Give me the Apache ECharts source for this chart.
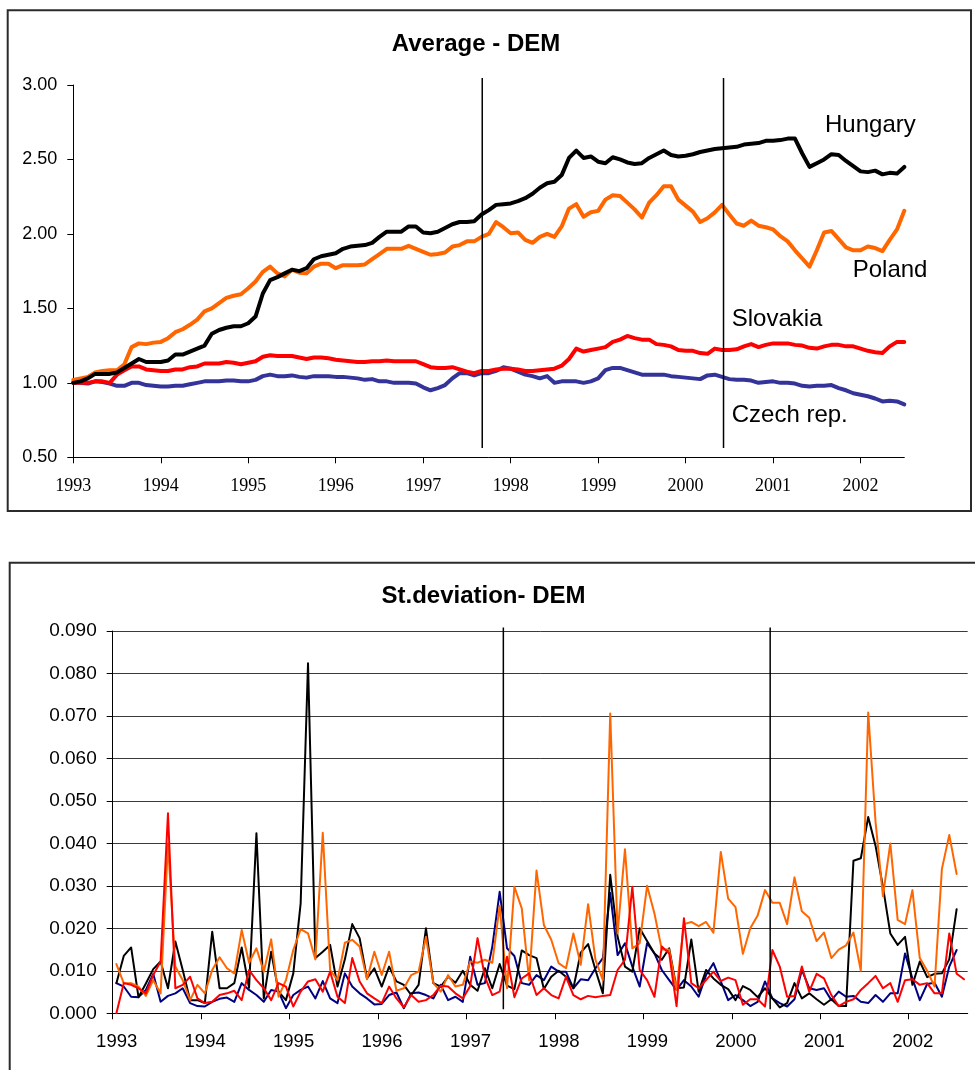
<!DOCTYPE html>
<html>
<head>
<meta charset="utf-8">
<script src="https://cdn.jsdelivr.net/npm/echarts@6/dist/echarts.min.js"></script>
<style>
  html, body { margin: 0; padding: 0; background: #ffffff; }
  #chart { width: 975px; height: 1070px; }
</style>
</head>
<body>
<div id="chart"></div>
<script>
// ---------- tick labels ----------
const yearLabels = ['1993','1994','1995','1996','1997','1998','1999','2000','2001','2002'];

// ---------- Average - DEM (monthly, Jan 1993 .. Jul 2002) ----------
const hungaryAvg = [1.00,1.01,1.03,1.06,1.06,1.06,1.07,1.10,1.13,1.16,1.14,1.14,1.14,1.15,1.19,1.19,1.21,1.23,1.25,1.33,1.355,1.37,1.38,1.38,1.40,1.445,1.60,1.69,1.71,1.735,1.76,1.75,1.77,1.83,1.85,1.86,1.87,1.90,1.915,1.92,1.925,1.94,1.98,2.015,2.015,2.015,2.05,2.05,2.01,2.005,2.015,2.04,2.065,2.08,2.08,2.085,2.13,2.16,2.195,2.20,2.205,2.22,2.24,2.27,2.31,2.34,2.35,2.395,2.51,2.56,2.51,2.52,2.485,2.475,2.515,2.50,2.48,2.47,2.475,2.51,2.535,2.56,2.53,2.52,2.525,2.535,2.55,2.56,2.57,2.575,2.58,2.585,2.60,2.605,2.61,2.625,2.625,2.63,2.64,2.64,2.54,2.45,2.475,2.50,2.535,2.53,2.49,2.455,2.42,2.415,2.425,2.40,2.41,2.405,2.45];
const polandAvg = [1.02,1.03,1.04,1.07,1.08,1.085,1.085,1.125,1.24,1.265,1.26,1.27,1.275,1.30,1.34,1.36,1.39,1.425,1.48,1.50,1.535,1.57,1.585,1.595,1.635,1.68,1.745,1.78,1.735,1.715,1.76,1.74,1.735,1.78,1.80,1.80,1.77,1.79,1.79,1.79,1.795,1.83,1.865,1.90,1.90,1.90,1.92,1.90,1.88,1.86,1.865,1.875,1.915,1.925,1.95,1.95,1.98,2.00,2.08,2.045,2.005,2.01,1.96,1.94,1.98,2.00,1.98,2.05,2.17,2.20,2.115,2.145,2.155,2.23,2.26,2.255,2.21,2.165,2.11,2.21,2.26,2.32,2.32,2.23,2.19,2.15,2.08,2.105,2.145,2.195,2.13,2.07,2.055,2.09,2.055,2.045,2.03,1.985,1.95,1.89,1.835,1.78,1.89,2.01,2.02,1.965,1.91,1.89,1.89,1.915,1.905,1.885,1.96,2.03,2.155];
const slovakiaAvg = [1.00,1.00,1.00,1.01,1.01,1.00,1.055,1.085,1.11,1.11,1.09,1.085,1.08,1.08,1.09,1.09,1.105,1.11,1.13,1.13,1.13,1.14,1.135,1.125,1.135,1.145,1.175,1.185,1.18,1.18,1.18,1.17,1.16,1.17,1.17,1.165,1.155,1.15,1.145,1.14,1.14,1.145,1.145,1.15,1.145,1.145,1.145,1.145,1.125,1.105,1.10,1.10,1.105,1.09,1.075,1.065,1.08,1.08,1.09,1.095,1.095,1.09,1.08,1.08,1.085,1.09,1.095,1.115,1.16,1.23,1.21,1.22,1.23,1.24,1.275,1.29,1.315,1.30,1.29,1.29,1.26,1.255,1.245,1.22,1.215,1.215,1.20,1.195,1.23,1.22,1.22,1.225,1.245,1.26,1.24,1.255,1.265,1.265,1.265,1.255,1.25,1.235,1.23,1.245,1.255,1.255,1.245,1.245,1.23,1.215,1.205,1.20,1.245,1.275,1.275];
const czechAvg = [1.00,1.00,0.995,1.01,1.005,0.995,0.98,0.98,1.00,1.00,0.985,0.98,0.975,0.975,0.98,0.98,0.99,1.00,1.01,1.01,1.01,1.015,1.015,1.01,1.01,1.02,1.045,1.055,1.045,1.045,1.05,1.04,1.035,1.045,1.045,1.045,1.04,1.04,1.035,1.03,1.02,1.025,1.01,1.01,1.00,1.00,1.00,0.995,0.97,0.95,0.965,0.985,1.03,1.065,1.065,1.05,1.065,1.065,1.08,1.105,1.095,1.075,1.055,1.045,1.03,1.045,1.00,1.01,1.01,1.01,1.00,1.01,1.03,1.085,1.10,1.10,1.085,1.07,1.055,1.055,1.055,1.055,1.045,1.04,1.035,1.03,1.025,1.05,1.055,1.04,1.025,1.02,1.02,1.015,1.00,1.005,1.01,1.00,1.00,0.995,0.98,0.975,0.98,0.98,0.985,0.965,0.95,0.93,0.92,0.91,0.895,0.875,0.88,0.875,0.855];
// vertical event lines (month index from Jan 1993) and their vertical extent
const avgEventMonths = [56.1, 89.2];
const avgEventSpan = [0.5625, 3.047];

// ---------- St.deviation - DEM ----------
const hungarySd = [0.0071,0.0135,0.0155,0.0038,0.0070,0.0104,0.0122,0.0059,0.0169,0.0102,0.0031,0.0031,0.0024,0.0192,0.0059,0.0059,0.0071,0.0155,0.0060,0.0424,0.0035,0.0145,0.0051,0.0031,0.0094,0.0259,0.0824,0.0130,0.0145,
  0.0161,0.0063,0.0127,0.0210,0.0177,0.0082,0.0106,0.0063,0.0110,0.0075,0.0067,0.0043,0.0067,0.0200,0.0071,0.0063,0.0086,0.0072,0.0100,0.0067,0.0053,0.0106,0.0059,0.0116,0.0065,0.0057,0.0148,0.0137,0.0130,0.0057,0.0086,0.0100,0.0086,0.0059,0.0143,0.0163,0.0102,0.0047,0.0326,0.0180,0.0110,0.0098,0.0200,0.0170,
  0.0141,0.0126,0.0153,0.0059,0.0061,0.0174,0.0051,0.0102,0.0082,0.0067,0.0057,0.0031,0.0064,0.0055,0.0038,0.0059,0.0035,0.0014,0.0024,0.0071,0.0035,0.0047,0.0033,0.0020,0.0033,0.0017,0.0017,0.0359,0.0365,0.0462,0.0394,0.0298,0.0188,0.0161,0.0180,0.0067,0.0122,0.0085,0.0093,0.0094,0.0127,0.0245];
const polandSd = [0.0116,0.0071,0.0071,0.0063,0.0041,0.0078,0.0047,0.0400,0.0110,0.0078,0.0031,0.0067,0.0047,0.0102,0.0132,0.0106,0.0094,0.0196,0.0119,0.0153,0.0098,0.0174,0.0039,0.0078,0.0149,0.0198,0.0188,0.0127,0.0425,
  0.0102,0.0078,0.0166,0.0173,0.0157,0.0080,0.0145,0.0090,0.0145,0.0053,0.0059,0.0090,0.0098,0.0180,0.0071,0.0051,0.0090,0.0063,0.0067,0.0122,0.0119,0.0126,0.0119,0.0253,0.0059,0.0298,0.0247,0.0078,0.0336,0.0208,0.0173,0.0118,0.0106,0.0188,0.0114,0.0257,0.0126,0.0078,0.0706,0.0188,0.0386,0.0153,0.0165,0.0300,
  0.0235,0.0150,0.0150,0.0055,0.0210,0.0215,0.0205,0.0215,0.0190,0.0380,0.0270,0.0250,0.0140,0.0200,0.0230,0.0290,0.0260,0.0260,0.0210,0.0320,0.0240,0.0225,0.0170,0.0190,0.0130,0.0150,0.0160,0.0190,0.0100,0.0708,0.0450,0.0276,0.0400,0.0220,0.0210,0.0290,0.0130,0.0100,0.0063,0.0340,0.0420,0.0328];
const slovakiaSd = [0,0.0071,0.0067,0.0059,0.0047,0.0090,0.0122,0.0471,0.0059,0.0067,0.0086,0.0035,0.0024,0.0027,0.0043,0.0047,0.0053,0.0031,0.0102,0.0078,0.0059,0.0031,0.0071,0.0063,0.0016,0.0051,0.0075,0.0080,0.0051,
  0.0098,0.0039,0.0024,0.0130,0.0075,0.0047,0.0035,0.0024,0.0063,0.0035,0.0014,0.0043,0.0027,0.0031,0.0043,0.0065,0.0063,0.0047,0.0035,0.0064,0.0177,0.0086,0.0043,0.0051,0.0133,0.0038,0.0082,0.0094,0.0043,0.0059,0.0043,0.0035,0.0086,0.0043,0.0033,0.0041,0.0038,0.0041,0.0043,0.0102,0.0126,0.0298,0.0102,0.0078,
  0.0039,0.0157,0.0141,0.0017,0.0224,0.0071,0.0059,0.0078,0.0098,0.0076,0.0084,0.0078,0.0020,0.0033,0.0033,0.0016,0.0149,0.0110,0.0039,0.0041,0.0110,0.0051,0.0093,0.0082,0.0043,0.0017,0.0027,0.0033,0.0055,0.0071,0.0088,0.0059,0.0071,0.0027,0.0078,0.0080,0.0067,0.0071,0.0047,0.0047,0.0188,0.0093,0.0080];
const czechSd = [0.0071,0.0063,0.0039,0.0038,0.0055,0.0093,0.0027,0.0041,0.0047,0.0059,0.0024,0.0017,0.0016,0.0027,0.0034,0.0037,0.0027,0.0071,0.0055,0.0043,0.0027,0.0055,0.0051,0.0012,0.0043,0.0055,0.0063,0.0035,0.0076,
  0.0035,0.0024,0.0094,0.0063,0.0047,0.0035,0.0021,0.0022,0.0043,0.0049,0.0012,0.0047,0.0049,0.0043,0.0035,0.0067,0.0031,0.0039,0.0027,0.0133,0.0067,0.0071,0.0157,0.0286,0.0153,0.0135,0.0071,0.0067,0.0090,0.0078,0.0110,0.0098,0.0098,0.0059,0.0080,0.0078,0.0106,0.0130,0.0283,0.0137,0.0165,0.0110,0.0063,
  0.0165,0.0141,0.0102,0.0078,0.0055,0.0078,0.0063,0.0039,0.0090,0.0118,0.0075,0.0031,0.0043,0.0031,0.0017,0.0027,0.0075,0.0035,0.0024,0.0016,0.0033,0.0102,0.0059,0.0055,0.0059,0.0031,0.0051,0.0039,0.0041,0.0027,0.0024,0.0043,0.0027,0.0047,0.0047,0.0141,0.0082,0.0031,0.0069,0.0072,0.0039,0.0110,0.0149];
const sdEventMonths = [53.0, 89.2];
const sdEventSpan = [0.00094, 0.0908];

// ---------- helpers ----------
const SANS = '"Liberation Sans", Arial, sans-serif';
const SERIF = '"Liberation Serif", "Times New Roman", serif';
const yearTicks = yearLabels.map((_, k) => k * 12);
const avgPairs = arr => arr.map((v, i) => [i, v]);
const sdPairs = arr => arr.map((v, i) => [i + 0.5, v]);

function lineSeries(name, data, color, width, xi, yi, z) {
  return {
    name, type: 'line', xAxisIndex: xi, yAxisIndex: yi, data,
    symbol: 'none', smooth: false, silent: true, z: z,
    lineStyle: { color, width, join: 'round', cap: 'round' }
  };
}
function eventSeries(month, span, xi, yi) {
  return {
    type: 'line', xAxisIndex: xi, yAxisIndex: yi, clip: false,
    data: [[month, span[0]], [month, span[1]]],
    symbol: 'none', silent: true, z: 10,
    lineStyle: { color: '#000', width: 1.5 }
  };
}

const chart = echarts.init(document.getElementById('chart'), null, { renderer: 'canvas', width: 975, height: 1070 });

const option = {
  animation: false,
  backgroundColor: '#ffffff',
  grid: [
    { left: 73.3, top: 85, width: 831, height: 372.3, outerBoundsMode: 'none', containLabel: false },
    { left: 112.7, top: 631, width: 855, height: 382.3, outerBoundsMode: 'none', containLabel: false }
  ],
  xAxis: [
    {
      gridIndex: 0, type: 'value', min: 0, max: 114, interval: 12,
      axisLine: { show: true, lineStyle: { color: '#000', width: 1 } },
      axisTick: { show: true, inside: false, length: 6, customValues: yearTicks, lineStyle: { color: '#000' } },
      axisLabel: { show: true, margin: 20, customValues: yearTicks, fontFamily: SERIF, fontSize: 18, color: '#000',
        formatter: v => yearLabels[Math.round(v / 12)] },
      splitLine: { show: false }
    },
    {
      gridIndex: 1, type: 'value', min: 0, max: 116, interval: 12,
      axisLine: { show: true, lineStyle: { color: '#000', width: 1 } },
      axisTick: { show: true, inside: false, length: 6, customValues: yearTicks, lineStyle: { color: '#000' } },
      axisLabel: { show: true, margin: 19, customValues: yearTicks, fontFamily: SANS, fontSize: 18.5, color: '#000',
        padding: [0, 0, 0, 8],
        formatter: v => yearLabels[Math.round(v / 12)] },
      splitLine: { show: false }
    }
  ],
  yAxis: [
    {
      gridIndex: 0, type: 'value', min: 0.5, max: 3.0, interval: 0.5,
      axisLine: { show: true, lineStyle: { color: '#000', width: 1 } },
      axisTick: { show: true, inside: false, length: 6, lineStyle: { color: '#000' } },
      axisLabel: { margin: 16, fontFamily: SANS, fontSize: 18, color: '#000', formatter: v => v.toFixed(2) },
      splitLine: { show: false }
    },
    {
      gridIndex: 1, type: 'value', min: 0, max: 0.09, interval: 0.01,
      axisLine: { show: true, lineStyle: { color: '#000', width: 1 } },
      axisTick: { show: true, inside: false, length: 6, lineStyle: { color: '#000' } },
      axisLabel: { margin: 16, fontFamily: SANS, fontSize: 19, color: '#000', formatter: v => v.toFixed(3) },
      splitLine: { show: true, lineStyle: { color: '#3a3a3a', width: 1 } }
    }
  ],
  series: [
    lineSeries('Czech rep.', avgPairs(czechAvg), '#333399', 4, 0, 0, 2),
    lineSeries('Slovakia', avgPairs(slovakiaAvg), '#ff0000', 4, 0, 0, 3),
    lineSeries('Poland', avgPairs(polandAvg), '#ff6600', 4, 0, 0, 4),
    lineSeries('Hungary', avgPairs(hungaryAvg), '#000000', 4, 0, 0, 5),
    eventSeries(avgEventMonths[0], avgEventSpan, 0, 0),
    eventSeries(avgEventMonths[1], avgEventSpan, 0, 0),

    lineSeries('Czech rep. sd', sdPairs(czechSd), '#000080', 2, 1, 1, 2),
    lineSeries('Hungary sd', sdPairs(hungarySd), '#000000', 2, 1, 1, 3),
    lineSeries('Poland sd', sdPairs(polandSd), '#ff6600', 2, 1, 1, 4),
    lineSeries('Slovakia sd', sdPairs(slovakiaSd), '#ff0000', 2, 1, 1, 5),
    eventSeries(sdEventMonths[0], sdEventSpan, 1, 1),
    eventSeries(sdEventMonths[1], sdEventSpan, 1, 1)
  ],
  graphic: [
    { type: 'rect', silent: true, z: -1, shape: { x: 7.7, y: 10.2, width: 963.3, height: 500.8 },
      style: { fill: 'none', stroke: '#2b2b2b', lineWidth: 2 } },
    { type: 'rect', silent: true, z: -1, shape: { x: 9.7, y: 562.7, width: 1000, height: 600 },
      style: { fill: 'none', stroke: '#2b2b2b', lineWidth: 2 } },
    { type: 'text', silent: true, x: 476, y: 44,
      style: { text: 'Average - DEM', fontFamily: SANS, fontWeight: 'bold', fontSize: 24, fill: '#000', align: 'center', verticalAlign: 'middle' } },
    { type: 'text', silent: true, x: 483.5, y: 596,
      style: { text: 'St.deviation- DEM', fontFamily: SANS, fontWeight: 'bold', fontSize: 24, fill: '#000', align: 'center', verticalAlign: 'middle' } },
    { type: 'text', silent: true, x: 825, y: 125,
      style: { text: 'Hungary', fontFamily: SANS, fontSize: 24, fill: '#000', align: 'left', verticalAlign: 'middle' } },
    { type: 'text', silent: true, x: 852.7, y: 270.5,
      style: { text: 'Poland', fontFamily: SANS, fontSize: 24, fill: '#000', align: 'left', verticalAlign: 'middle' } },
    { type: 'text', silent: true, x: 731.7, y: 319.5,
      style: { text: 'Slovakia', fontFamily: SANS, fontSize: 24, fill: '#000', align: 'left', verticalAlign: 'middle' } },
    { type: 'text', silent: true, x: 731.7, y: 415.5,
      style: { text: 'Czech rep.', fontFamily: SANS, fontSize: 24, fill: '#000', align: 'left', verticalAlign: 'middle' } }
  ]
};
chart.setOption(option);
</script>
</body>
</html>
